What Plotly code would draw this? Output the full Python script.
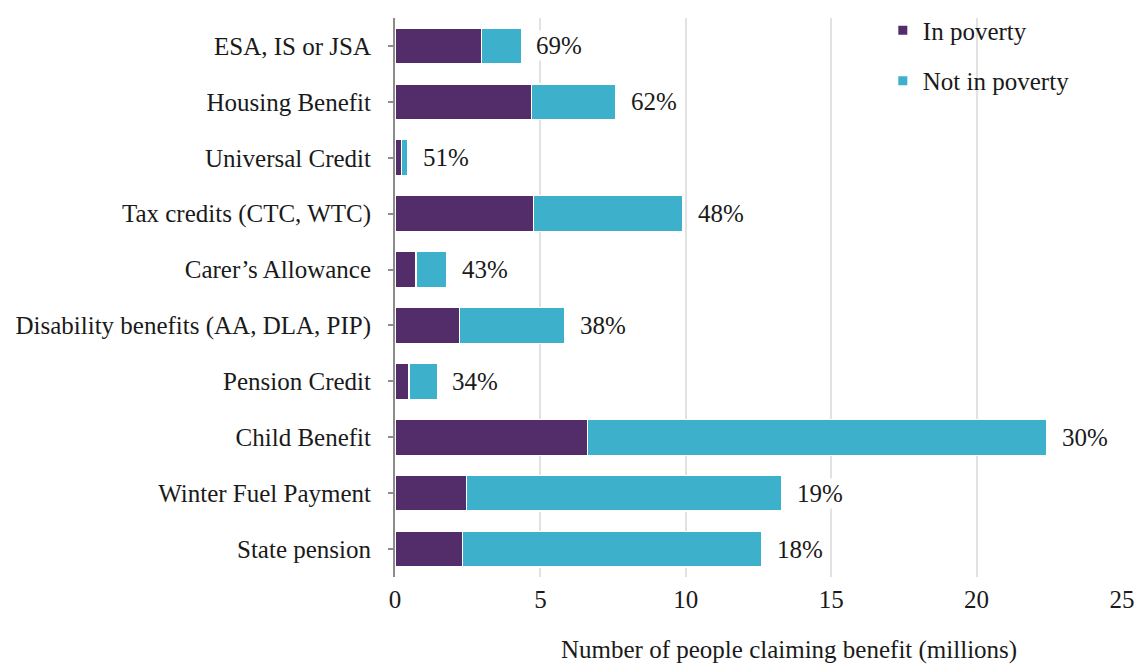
import plotly.graph_objects as go

# Benefit claimants by poverty status (millions)
categories = [
    "ESA, IS or JSA",
    "Housing Benefit",
    "Universal Credit",
    "Tax credits (CTC, WTC)",
    "Carer\u2019s Allowance",
    "Disability benefits (AA, DLA, PIP)",
    "Pension Credit",
    "Child Benefit",
    "Winter Fuel Payment",
    "State pension",
]
in_poverty = [2.97, 4.69, 0.22, 4.76, 0.72, 2.21, 0.48, 6.62, 2.45, 2.31]
not_in_poverty = [1.37, 2.90, 0.23, 5.14, 1.06, 3.62, 0.97, 15.79, 10.86, 10.31]
share_labels = ["69%", "62%", "51%", "48%", "43%", "38%", "34%", "30%", "19%", "18%"]

PURPLE = "#532C6A"
TEAL = "#3DB1CB"
FONT = "Liberation Serif"
FSIZE = 25
TEXT = "#1a1a1a"

fig = go.Figure()

fig.add_trace(go.Bar(
    y=categories, x=in_poverty, orientation="h",
    name="In poverty", marker=dict(color=PURPLE, line=dict(color="white", width=1.2)),
    showlegend=False, hoverinfo="x+y",
))
fig.add_trace(go.Bar(
    y=categories, x=not_in_poverty, orientation="h",
    name="Not in poverty", marker=dict(color=TEAL, line=dict(color="white", width=1.2)),
    showlegend=False, hoverinfo="x+y",
))

# small square legend markers
fig.add_trace(go.Scatter(x=[None], y=[None], mode="markers", name="In poverty",
                         marker=dict(symbol="square", size=9, color=PURPLE),
                         legendgroup="a"))
fig.add_trace(go.Scatter(x=[None], y=[None], mode="markers", name="Not in poverty",
                         marker=dict(symbol="square", size=9, color=TEAL),
                         legendgroup="b"))

# share-in-poverty labels at the end of each bar
for cat, a, b, lab in zip(categories, in_poverty, not_in_poverty, share_labels):
    fig.add_annotation(
        x=a + b, y=cat, text=lab, showarrow=False,
        xanchor="left", xshift=13, bgcolor="white",
        font=dict(family=FONT, size=FSIZE, color=TEXT),
    )

fig.add_annotation(
    text="Number of people claiming benefit (millions)",
    xref="paper", yref="paper", x=0.542, y=-0.131, yanchor="middle",
    showarrow=False, font=dict(family=FONT, size=FSIZE, color=TEXT),
)

fig.update_layout(
    barmode="stack",
    bargap=0.36,
    width=1135, height=664,
    margin=dict(l=395, r=13, t=18, b=87, autoexpand=False),
    plot_bgcolor="white", paper_bgcolor="white",
    font=dict(family=FONT, size=FSIZE, color=TEXT),
    legend=dict(x=0.671, y=1.019, xanchor="left", yanchor="top",
                bgcolor="rgba(0,0,0,0)", tracegroupgap=15,
                font=dict(family=FONT, size=FSIZE, color=TEXT)),
    xaxis=dict(range=[0, 25], dtick=5, showgrid=True, gridcolor="#e2e2e2",
               gridwidth=2, zeroline=False, showline=False, ticks="",
               automargin=False, ticklabelstandoff=5,
               tickfont=dict(family=FONT, size=FSIZE, color=TEXT)),
    yaxis=dict(autorange="reversed", showline=True, linecolor="#8c8c8c",
               linewidth=2, ticks="outside", tickcolor="#8c8c8c", ticklen=5,
               tickwidth=2, showgrid=False, automargin=False,
               ticklabelstandoff=12,
               tickfont=dict(family=FONT, size=FSIZE, color=TEXT)),
)

# drop the default page margin so the figure fills the window exactly
fig.write_html("out.html", config={"displayModeBar": False},
               post_script="document.body.style.margin='0';")
